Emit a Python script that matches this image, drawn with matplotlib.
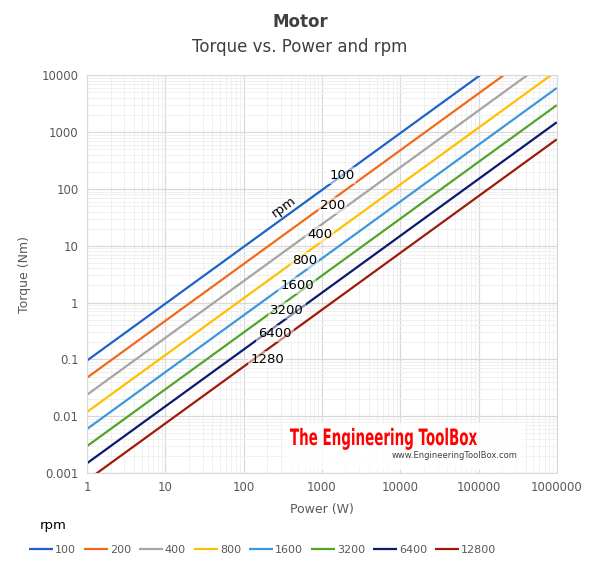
import matplotlib
matplotlib.use("Agg")
import matplotlib.pyplot as plt
from matplotlib.ticker import LogLocator, FuncFormatter, NullFormatter
from matplotlib.textpath import TextPath
from matplotlib.patches import PathPatch
from matplotlib.font_manager import FontProperties
from matplotlib.transforms import Affine2D, IdentityTransform

# ---- data ----
power_w = [1, 10, 100, 1000, 10000, 100000, 1000000]
rpm_labels = ["100", "200", "400", "800", "1600", "3200", "6400", "12800"]
torque_100 = [0.0955, 0.955, 9.55, 95.5, 955, 9550, 95500]
torque_200 = [0.0477, 0.477, 4.77, 47.7, 477, 4770, 47700]
torque_400 = [0.0239, 0.239, 2.39, 23.9, 239, 2390, 23900]
torque_800 = [0.0119, 0.119, 1.19, 11.9, 119, 1190, 11900]
torque_1600 = [0.00597, 0.0597, 0.597, 5.97, 59.7, 597, 5970]
torque_3200 = [0.00298, 0.0298, 0.298, 2.98, 29.8, 298, 2980]
torque_6400 = [0.00149, 0.0149, 0.149, 1.49, 14.9, 149, 1490]
torque_12800 = [0.000746, 0.00746, 0.0746, 0.746, 7.46, 74.6, 746]
inline_labels = ["100", "200", "400", "800", "1600", "3200", "6400", "1280"]

series = [torque_100, torque_200, torque_400, torque_800,
          torque_1600, torque_3200, torque_6400, torque_12800]
colors = ["#1F63C6", "#F06A1E", "#A5A5A5", "#FFC000",
          "#3F97DB", "#53A42A", "#0B1A6B", "#9E1A0A"]

# inline label positions (power, torque)
label_pos = [(1800, 170), (1380, 52), (940, 16), (607, 5.6),
             (480, 2.0), (357, 0.73), (251, 0.29), (199, 0.1)]

W, H = 600, 570
fig = plt.figure(figsize=(6, 5.7), dpi=100)
ax = fig.add_axes([0.145, 0.170, 0.783, 0.698])

for t, c, lab in zip(series, colors, rpm_labels):
    ax.plot(power_w, t, color=c, lw=1.6, label=lab, solid_capstyle="butt")

ax.set_xscale("log")
ax.set_yscale("log")
ax.set_xlim(1, 1e6)
ax.set_ylim(0.001, 10000)

ax.xaxis.set_major_locator(LogLocator(base=10, numticks=20))
ax.yaxis.set_major_locator(LogLocator(base=10, numticks=20))
ax.xaxis.set_minor_locator(LogLocator(base=10, subs=range(2, 10), numticks=100))
ax.yaxis.set_minor_locator(LogLocator(base=10, subs=range(2, 10), numticks=100))
ax.xaxis.set_minor_formatter(NullFormatter())
ax.yaxis.set_minor_formatter(NullFormatter())


def fmt(v, pos):
    if v >= 1:
        return f"{v:.0f}"
    return f"{v:g}"


ax.xaxis.set_major_formatter(FuncFormatter(fmt))
ax.yaxis.set_major_formatter(FuncFormatter(fmt))

ax.grid(True, which="major", color="#D9D9D9", lw=0.9)
ax.grid(True, which="minor", color="#F0F0F0", lw=0.7)
ax.set_axisbelow(True)
ax.tick_params(which="both", length=0, colors="#595959", labelsize=8.5, pad=6)
for s in ax.spines.values():
    s.set_color("#D9D9D9")

ax.set_xlabel("Power (W)", fontsize=9, color="#595959", labelpad=6)
ax.set_ylabel("Torque (Nm)", fontsize=9, color="#595959", labelpad=8)

# inline labels
for (px, ty), txt in zip(label_pos, inline_labels):
    ax.text(px, ty, txt, fontsize=9.5, color="black", ha="center", va="center",
            bbox=dict(boxstyle="square,pad=0.15", fc="white", ec="none", alpha=0.5),
            zorder=5)
ax.text(327, 48, "rpm", fontsize=9.5, color="black", ha="center", va="center",
        rotation=36, rotation_mode="anchor", zorder=5)

# titles
fig.text(0.5, 1 - 22 / H, "Motor", ha="center", va="center", fontsize=12,
         fontweight="bold", color="#404040")
fig.text(0.5, 1 - 47 / H, "Torque vs. Power and rpm", ha="center", va="center",
         fontsize=12, color="#404040")

# watermark
fig.patches.append(plt.Rectangle((283 / W, 1 - 470 / H), 242 / W, 47 / H,
                                 transform=fig.transFigure, fc="white", ec="none",
                                 alpha=0.85, zorder=6))
tp = TextPath((0, 0), "The Engineering ToolBox", size=1,
              prop=FontProperties(family="DejaVu Sans", weight="bold"))
bb = tp.get_extents()
sx = 187 / bb.width
sy = 16.5 / 0.73
tr = Affine2D().translate(-bb.x0, 0).scale(sx, sy).translate(290, H - 445)
wm = PathPatch(tr.transform_path(tp), fc="#FF0000", ec="none",
               transform=IdentityTransform(), zorder=7)
fig.patches.append(wm)
fig.text(518 / W, 1 - 456 / H, "www.EngineeringToolBox.com", fontsize=6,
         color="#404040", ha="right", va="center", zorder=7)

# legend
fig.text(40 / W, 1 - 525 / H, "rpm", fontsize=9.5, ha="left", va="center",
         color="black")
leg = fig.legend(loc="center", bbox_to_anchor=(0.438, 1 - 550 / H), ncol=8,
                 frameon=False, fontsize=8, handlelength=2.1, handletextpad=0.2,
                 columnspacing=0.75, borderpad=0.0)
for t in leg.get_texts():
    t.set_color("#595959")

fig.savefig("out.png", dpi=100)
